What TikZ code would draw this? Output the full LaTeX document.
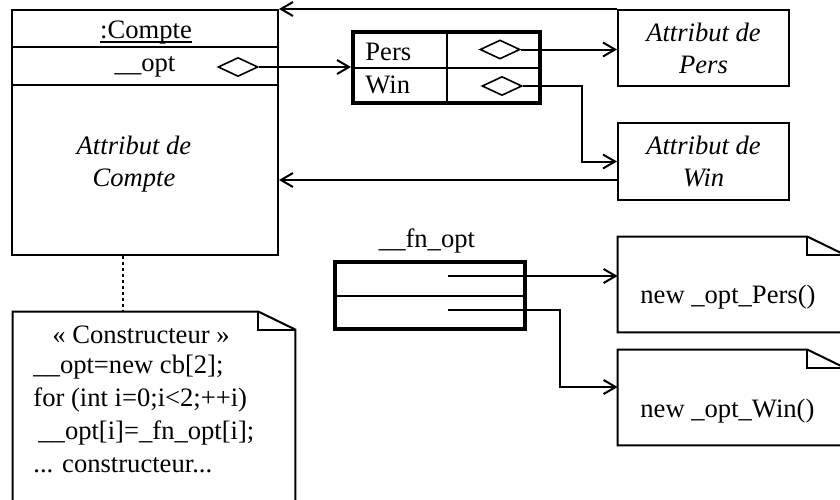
\documentclass[tikz,border=0pt]{standalone}
\usepackage{fontspec}
\setmainfont{Liberation Serif}
\usetikzlibrary{positioning,shapes.geometric,arrows.meta}

\tikzset{
  box/.style={draw,line width=1pt,inner sep=0pt},
  thickbox/.style={draw,line width=2pt,inner sep=0pt},
  agg/.style={diamond,draw,line width=0.8pt,inner sep=0pt,minimum width=20pt,minimum height=9.5pt},
  txt/.style={inner sep=0pt,font=\fontsize{13.3}{16}\selectfont},
  attr/.style={inner sep=0pt,align=center,font=\fontsize{13.3}{16}\selectfont\itshape},
  notebox/.style={inner sep=0pt},
  link/.style={line width=1pt,-{Straight Barb[length=6pt,width=7pt]}},
}
\newcommand\notefold[1]{%
  \draw[line width=1pt] (#1.south west) |- ([xshift=-18.5pt]#1.north east) -- ([yshift=-9pt]#1.north east) -- (#1.south east) -- cycle;
  \draw[line width=1pt] ([xshift=-18.5pt]#1.north east) |- ([yshift=-9pt]#1.north east);
}

\begin{document}
\begin{tikzpicture}[x=0.5pt,y=-0.5pt]
	\clip (0,0) rectangle (840,499);
	\node[box,minimum width=133pt,minimum height=122.5pt] (compte) at (145,132.5) {};
	\draw[line width=1pt] (12,47) -- (278,47) (12,85) -- (278,85);
	\node[txt,anchor=base] (cpttitle) at (146,38) {:Compte};
	\draw[line width=0.6pt] ([yshift=-2pt]cpttitle.base west) -- ([yshift=-2pt]cpttitle.base east);
	\node[txt,anchor=base] (opt) at (145,71) {\_\_opt};
	\node[agg] (optagg) at (238,67) {};
	\node[attr] (cptattr) at (134,164) {Attribut de\\Compte};
	\node[thickbox,minimum width=93.5pt,minimum height=35.5pt] (tab) at (446.5,67.5) {};
	\draw[line width=0.8pt] (447,32) -- (447,103) (353,68) -- (540,68);
	\node[txt,anchor=base west] (pers) at (365,60) {Pers};
	\node[txt,anchor=base west] (win) at (365,93) {Win};
	\node[agg] (persagg) at (500,49.5) {};
	\node[agg] (winagg) at (502,86) {};
	\node[box,attr,minimum width=85.5pt,minimum height=38pt] (attrpers) at (703.5,48) {Attribut de\\Pers};
	\node[box,attr,minimum width=85.5pt,minimum height=38.5pt] (attrwin) at (703.5,161.5) {Attribut de\\Win};
	\coordinate (back) at (618,180);
	\draw[link] (optagg.east) -- (optagg.east -| tab.west);
	\draw[link] (persagg.east) -- (persagg.east -| attrpers.west);
	\draw[link] (winagg.east) -- ++(59,0) |- (attrwin.west);
	\draw[link] (attrpers.north west) -- (compte.north east);
	\draw[link] (back) -- (back -| compte.east);
	\node[thickbox,minimum width=95pt,minimum height=33.5pt] (fnopt) at (430,295.5) {};
	\draw[line width=0.8pt] (335,296) -- (525,296);
	\node[txt,anchor=base] (fnlabel) at (427,247) {\_\_fn\_opt};
	\coordinate (fnpers) at (448,276);
	\coordinate (fnwin) at (448,310);
	\node[notebox,minimum width=113pt,minimum height=47.5pt] (newpers) at (731,284.5) {};
	\notefold{newpers}
	\node[txt,anchor=base west] (newperstxt) at (640,303) {new \_opt\_Pers()};
	\node[notebox,minimum width=113pt,minimum height=47.5pt] (newwin) at (731,397.5) {};
	\notefold{newwin}
	\node[txt,anchor=base west] (newwintxt) at (640,417) {new \_opt\_Win()};
	\draw[link] (fnpers) -- (fnpers -| newpers.west);
	\draw[link] (fnwin) -- ++(112,0) |- ([yshift=5.25pt]newwin.west);
	\node[notebox,minimum width=141pt,minimum height=109pt] (ctor) at (154,421) {};
	\notefold{ctor}
	\node[txt,anchor=base] (stereo) at (141,343) {« Constructeur »};
	\node[txt,anchor=base west] (code1) at (33,373) {\_\_opt=new cb[2];};
	\node[txt,anchor=base west] (code2) at (33,406) {for (int i=0;i<2;++i)};
	\node[txt,anchor=base west] (code3) at (38,439) {\_\_opt[i]=\_fn\_opt[i];};
	\node[txt,anchor=base west] (code4) at (33,472) {... constructeur...};
	\coordinate (dot) at (123,0);
	\draw[line width=1pt,dash pattern=on 1.5pt off 1.5pt] (compte.south -| dot) -- (ctor.north -| dot);
\end{tikzpicture}
\end{document}
